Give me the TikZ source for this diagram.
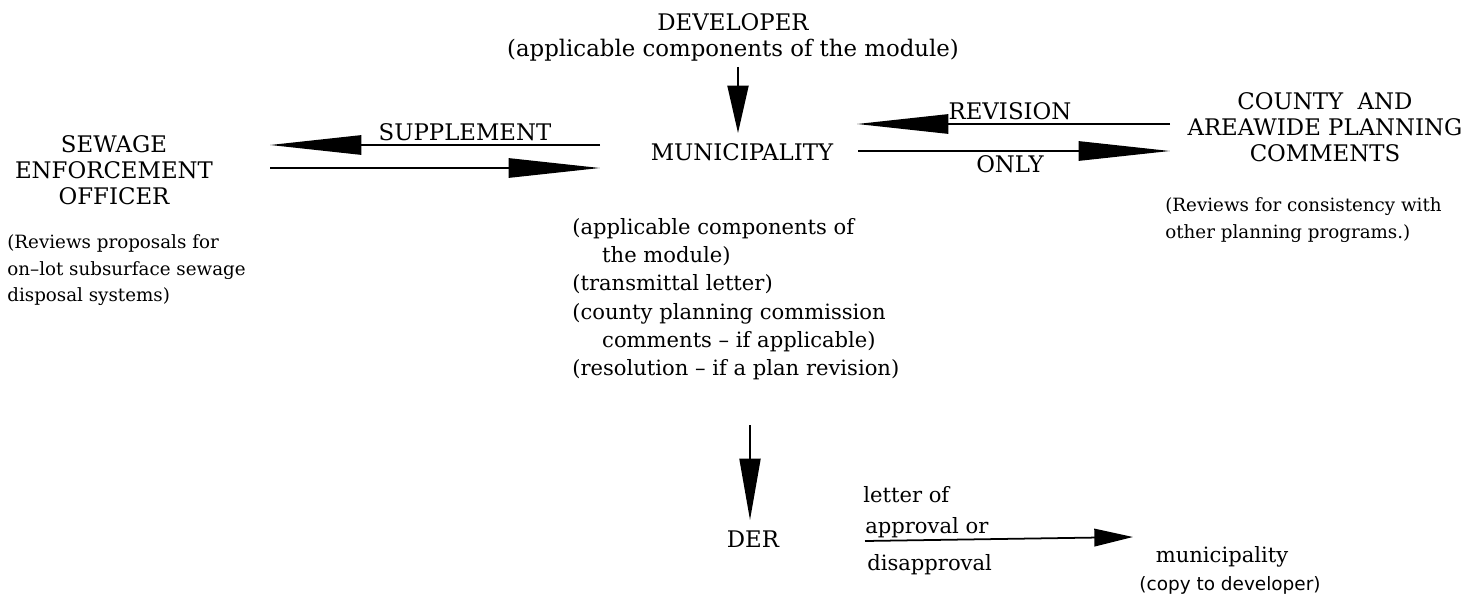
\documentclass[tikz,border=0pt]{standalone}
\usepackage{fontspec}
\setmainfont{DejaVu Serif}
\newfontfamily\copyfont{DejaVu Sans}
\usetikzlibrary{arrows.meta}

\begin{document}
\begin{tikzpicture}[x=0.02cm,y=-0.02cm,
  lbl/.style={font=\fontsize{13}{14.8}\selectfont,align=center,inner sep=0pt},
  txt/.style={font=\fontsize{12}{16.1}\selectfont,align=left,inner sep=0pt},
  note/.style={font=\fontsize{10.4}{15.3}\selectfont,align=left,inner sep=0pt},
  flow/.style={line width=1pt,-{Triangle[length=52pt,width=11pt]}},
  down/.style={line width=1pt,-{Triangle[length=#1,width=12pt]}}]
  \useasboundingbox (0,0) rectangle (1481,598);
  % top: developer feeds the municipality
  \node[lbl,anchor=north] (dev) at (733,13) {DEVELOPER\\(applicable components of the module)};
  \node[lbl,anchor=base] (mun) at (742,160) {MUNICIPALITY};
  \coordinate (dev-a) at (738,67);
  \coordinate (mun-a) at (738,133);
  \draw[down=27pt] (dev-a) -- (mun-a);
  % left: sewage enforcement officer
  \node[lbl,anchor=north] (seo) at (114,135) {SEWAGE\\ENFORCEMENT\\OFFICER};
  \node[note,anchor=north west] (seon) at (7,234) {(Reviews proposals for\\on--lot subsurface sewage\\disposal systems)};
  \node[lbl,anchor=base] (sup) at (465,140) {SUPPLEMENT};
  \coordinate (mun-w1) at (600,145);
  \coordinate (seo-e1) at (270,145);
  \coordinate (seo-e2) at (270,168);
  \coordinate (mun-w2) at (600,168);
  \draw[flow] (mun-w1) -- (seo-e1);
  \draw[flow] (seo-e2) -- (mun-w2);
  % right: county and areawide planning
  \node[lbl,anchor=north] (cty) at (1325,92) {COUNTY\ \ AND\\AREAWIDE PLANNING\\COMMENTS};
  \node[note,anchor=north west] (ctyn) at (1165,197) {(Reviews for consistency with\\other planning programs.)};
  \node[lbl,anchor=base] (rev) at (1010,120) {REVISION};
  \node[lbl,anchor=base] (only) at (1010,173) {ONLY};
  \coordinate (cty-w1) at (1170,124);
  \coordinate (mun-e1) at (857,124);
  \coordinate (mun-e2) at (858,151);
  \coordinate (cty-w2) at (1170,151);
  \draw[flow] (cty-w1) -- (mun-e1);
  \draw[flow] (mun-e2) -- (cty-w2);
  % what goes on to DER
  \node[txt,anchor=north west] (docs) at (572,218) {(applicable components of\\\hspace*{17pt}the module)\\(transmittal letter)\\(county planning commission\\\hspace*{17pt}comments -- if applicable)\\(resolution -- if a plan revision)};
  \node[lbl,anchor=base] (der) at (753,547) {DER};
  \coordinate (docs-s) at (750,425);
  \coordinate (der-n) at (750,520);
  \draw[down=35pt] (docs-s) -- (der-n);
  % answer back to the municipality
  \node[txt,anchor=base west] (ltr) at (863,502) {letter of};
  \node[txt,anchor=base west] (appr) at (865,533) {approval or};
  \node[txt,anchor=base west] (dis) at (867,570) {disapproval};
  \node[txt,anchor=base] (muni) at (1222,562) {municipality};
  \node[font=\copyfont\fontsize{10.5}{12}\selectfont,anchor=base,inner sep=0pt] (cpy) at (1230,590) {(copy to developer)};
  \coordinate (der-e) at (865,541);
  \coordinate (muni-w) at (1133,537);
  \draw[line width=1pt,-{Triangle[length=22pt,width=10pt]}] (der-e) -- (muni-w);
\end{tikzpicture}
\end{document}
